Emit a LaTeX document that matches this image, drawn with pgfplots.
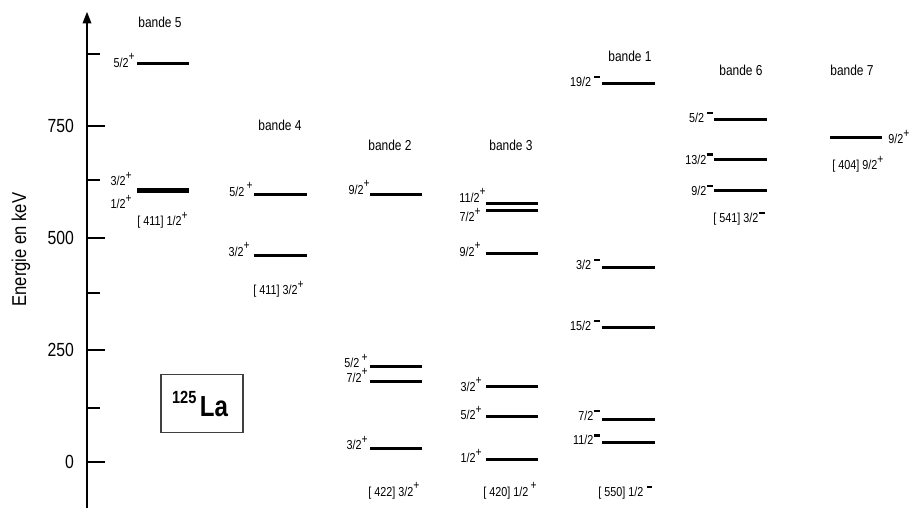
\documentclass[border=0pt]{standalone}
\usepackage{pgfplots}
\pgfplotsset{compat=1.18}
\usepackage{fontspec}
\setmainfont{Liberation Sans}[FakeStretch=0.83]
\usetikzlibrary{arrows.meta}
\newcommand\lvlfont{\fontsize{6.5}{7}\selectfont}
\newcommand\bandfont{\fontsize{7.2}{8}\selectfont}
\newcommand\parP{\raisebox{3.4pt}{\fontsize{6.2}{6}\selectfont +}}
\newcommand\parM{\hspace{0.5pt}\rule[4.2pt]{2.6pt}{1.1pt}}
\begin{document}
\begin{tikzpicture}
\useasboundingbox (-43.5pt,0pt) rectangle (413.5pt,254pt);
\begin{axis}[
  scale only axis, width=413.5pt, height=248.15pt,
  xmin=87, xmax=914, ymin=-102.7, ymax=1005,
  axis x line=none, axis y line=left,
  y axis line style={line width=1pt, -{Triangle[width=4.2pt,length=5.8pt]}},
  ytick={0,250,500,750}, minor ytick={121,378,629,910},
  tick align=inside,
  major tick length=9pt, minor tick length=6.5pt,
  every tick/.style={black, line width=1pt},
  yticklabel style={font=\fontsize{9.5}{10}\selectfont, xshift=-3pt},
  /pgf/number format/assume math mode=true,
  clip=false,
  lvl/.style={black, line width=1.5pt, no marks},
]
% bande 5
\addplot[lvl] coordinates {(137,890) (189,890)};
\addplot[lvl] coordinates {(137,608) (189,608)};
\addplot[lvl] coordinates {(137,603) (189,603)};
% bande 4
\addplot[lvl] coordinates {(254,597) (307,597)};
\addplot[lvl] coordinates {(254,460) (307,460)};
% bande 2
\addplot[lvl] coordinates {(370,598) (422,598)};
\addplot[lvl] coordinates {(370,212) (422,212)};
\addplot[lvl] coordinates {(370,179) (422,179)};
\addplot[lvl] coordinates {(370,29) (422,29)};
% bande 3
\addplot[lvl] coordinates {(486,578) (538,578)};
\addplot[lvl] coordinates {(486,562) (538,562)};
\addplot[lvl] coordinates {(486,466) (538,466)};
\addplot[lvl] coordinates {(486,168) (538,168)};
\addplot[lvl] coordinates {(486,102) (538,102)};
\addplot[lvl] coordinates {(486,5) (538,5)};
% bande 1
\addplot[lvl] coordinates {(602,845) (655,845)};
\addplot[lvl] coordinates {(602,435) (655,435)};
\addplot[lvl] coordinates {(602,301) (655,301)};
\addplot[lvl] coordinates {(602,95) (655,95)};
\addplot[lvl] coordinates {(602,43) (655,43)};
% bande 6
\addplot[lvl] coordinates {(714,765) (767,765)};
\addplot[lvl] coordinates {(714,676) (767,676)};
\addplot[lvl] coordinates {(714,605) (767,605)};
% bande 7
\addplot[lvl] coordinates {(830,724) (882,724)};

% y label
\node[rotate=90, font=\fontsize{10}{11}\selectfont] at (axis cs:21,474) {Energie en keV};

% band titles
\node[font=\bandfont] at (axis cs:160,982) {bande 5};
\node[font=\bandfont] at (axis cs:280,752) {bande 4};
\node[font=\bandfont] at (axis cs:390,706) {bande 2};
\node[font=\bandfont] at (axis cs:511,706) {bande 3};
\node[font=\bandfont] at (axis cs:630,905) {bande 1};
\node[font=\bandfont] at (axis cs:741,873) {bande 6};
\node[font=\bandfont] at (axis cs:852,873) {bande 7};

% spin labels
\tikzset{sl/.style={font=\lvlfont, anchor=base east, inner sep=0pt}, nl/.style={font=\lvlfont, anchor=base west, inner sep=0pt}}
\node[sl] at (axis cs:135,881) {5/2\parP};
\node[sl] at (axis cs:132,616) {3/2\parP};
\node[sl] at (axis cs:132,565) {1/2\parP};
\node[nl] at (axis cs:137,527) {[ 411] 1/2\parP};

\node[sl] at (axis cs:253,592) {5/2\,\parP};
\node[sl] at (axis cs:250,458) {3/2\parP};
\node[nl] at (axis cs:253,373) {[ 411] 3/2\parP};

\node[sl] at (axis cs:370,598) {9/2\parP};
\node[sl] at (axis cs:368,210) {5/2\,\parP};
\node[sl] at (axis cs:368,177) {7/2\parP};
\node[sl] at (axis cs:368,27) {3/2\parP};
\node[nl] at (axis cs:368,-77) {[ 422] 3/2\parP};

\node[sl] at (axis cs:486,579) {11/2\parP};
\node[sl] at (axis cs:481,536) {7/2\parP};
\node[sl] at (axis cs:481,458) {9/2\parP};
\node[sl] at (axis cs:482,157) {3/2\parP};
\node[sl] at (axis cs:482,94) {5/2\parP};
\node[sl] at (axis cs:482,-2) {1/2\parP};
\node[nl] at (axis cs:483,-77) {[ 420] 1/2\,\parP};

\node[sl] at (axis cs:600,838) {19/2\,\parM};
\node[sl] at (axis cs:600,429) {3/2\,\parM};
\node[sl] at (axis cs:600,293) {15/2\,\parM};
\node[sl] at (axis cs:600,92) {7/2\parM};
\node[sl] at (axis cs:600,38) {11/2\parM};
\node[nl] at (axis cs:598,-77) {[ 550] 1/2\,\parM};

\node[sl] at (axis cs:713,757) {5/2\,\parM};
\node[sl] at (axis cs:713,665) {13/2\parM};
\node[sl] at (axis cs:713,594) {9/2\parM};
\node[nl] at (axis cs:713,534) {[ 541] 3/2\parM};

\node[nl] at (axis cs:888,710) {9/2\parP};
\node[nl] at (axis cs:832,652) {[ 404] 9/2\parP};

% nucleus box
\draw[line width=0.6pt, black!75] (axis cs:161,195) rectangle (axis cs:243,65);
\node[inner sep=0pt] at (axis cs:200,130) {\raisebox{6.5pt}{\fontsize{8.8}{9}\selectfont\bfseries 125}\,{\fontsize{14.5}{15}\selectfont\bfseries La}};
\end{axis}
\end{tikzpicture}
\end{document}
